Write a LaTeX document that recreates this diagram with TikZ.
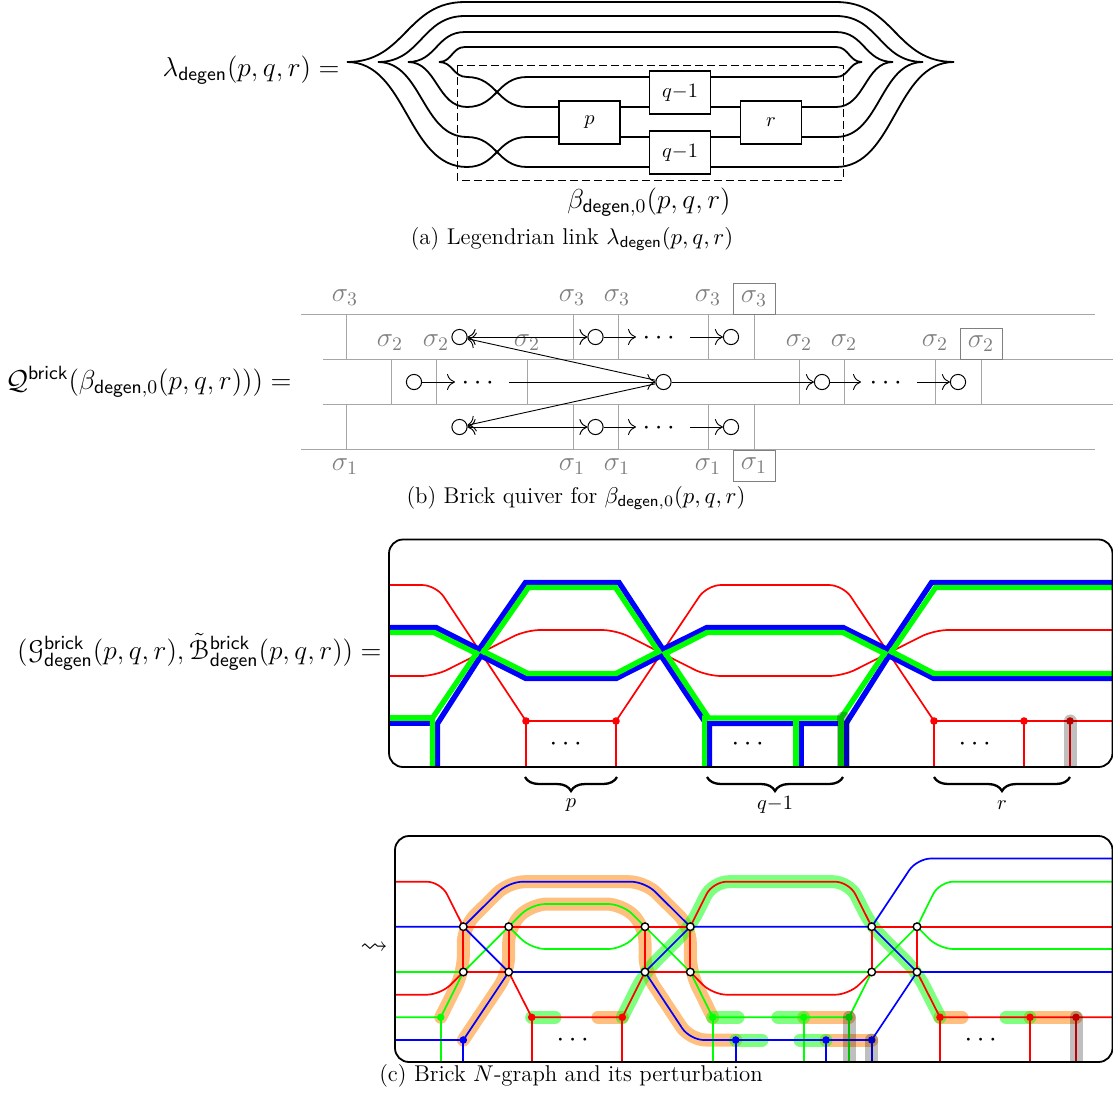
\documentclass[tikz,border=0pt]{standalone}
\usepackage{fix-cm}
\usepackage{amsmath,amssymb}
\usepackage[mathscr]{eucal}
\usetikzlibrary{arrows.meta,decorations.pathreplacing}
\newcommand{\fbig}{\fontsize{13.7}{16}\selectfont}
\newcommand{\fcap}{\fontsize{11.4}{13}\selectfont}
\newcommand{\fsm}{\fontsize{10.2}{12}\selectfont}
\newcommand{\dg}{\mathsf{degen}}
\definecolor{sgray}{gray}{0.5}
\tikzset{
  strand/.style={line width=0.9pt},
  boxn/.style={draw,line width=0.9pt,fill=white,minimum width=30.5pt,minimum height=21.5pt,inner sep=0pt,font=\fsm},
  glab/.style={text=sgray,font=\fbig,inner sep=0pt},
  gbox/.style={draw=sgray,line width=.45pt,minimum width=21pt,minimum height=15.5pt,inner sep=0pt,text=sgray,font=\fbig},
  gl/.style={draw=sgray!70,line width=.5pt},
  qv/.style={circle,draw,minimum size=7.6pt,inner sep=0pt,line width=.5pt},
  qa/.style={line width=.45pt,-{Computer Modern Rightarrow[length=4pt,width=8pt]}},
  qb/.style={line width=.5pt,{Computer Modern Rightarrow[length=4pt,width=8pt]}-{Computer Modern Rightarrow[length=4pt,width=8pt]}},
  thinr/.style={draw=red,line width=.85pt},
  thinb/.style={draw=blue,line width=.85pt},
  thing/.style={draw=green,line width=.85pt},
  thickb/.style={draw=blue,line width=2.7pt},
  thickg/.style={draw=green,line width=2.7pt},
  rr/.style={rounded corners=7pt},
  frame/.style={draw,line width=.9pt,rounded corners=7pt},
  hlg/.style={draw=black,opacity=.25,line width=6.5pt,line cap=round},
  hlo/.style={draw=orange,opacity=.5,line width=6.5pt,line cap=round,rounded corners=8pt},
  hlgr/.style={draw=green,opacity=.5,line width=6.5pt,line cap=round,rounded corners=8pt},
  rdot/.style={circle,fill=red,minimum size=3.8pt,inner sep=0pt},
  bdot/.style={circle,fill=blue,minimum size=3.8pt,inner sep=0pt},
  gdot/.style={circle,fill=green,minimum size=3.8pt,inner sep=0pt},
  wn/.style={circle,draw,fill=white,line width=.7pt,minimum size=3.8pt,inner sep=0pt},
  bracest/.style={decorate,decoration={brace,mirror,amplitude=7pt},line width=1.15pt},
  tx/.style={inner sep=0pt,font=\fbig},
  captxt/.style={inner sep=0pt,font=\fcap},
  smtxt/.style={inner sep=0pt,font=\fsm},
}
\begin{document}
\begin{tikzpicture}[x=.5pt,y=-.5pt]
\useasboundingbox (0,0) rectangle (1113,1093);
%% ---------- (a)
\node[tx,anchor=east] (la) at (340,70) {$\lambda_{\dg}(p,q,r)=$};
\foreach \lx/\rx/\ty in {347/954/2,378/923/16,408/893/32,439/862/47}{
  \draw[strand] (\lx,62) .. controls ({(\lx+465)/2},62) and ({(\lx+465)/2},\ty) .. (465,\ty) -- (836,\ty)
     .. controls ({(\rx+836)/2},\ty) and ({(\rx+836)/2},62) .. (\rx,62);
}
\draw[strand] (439,62) .. controls (453,62) and (453,77) .. (467,77) .. controls (497,77) and (497,107) .. (527,107) -- (836,107)
   .. controls (865,107) and (865,62) .. (893,62);
\draw[strand] (408,62) .. controls (437,62) and (437,107) .. (467,107) .. controls (497,107) and (497,77) .. (527,77) -- (836,77)
   .. controls (849,77) and (849,62) .. (862,62);
\draw[strand] (378,62) .. controls (422,62) and (422,137) .. (467,137) .. controls (497,137) and (497,167) .. (527,167) -- (836,167)
   .. controls (895,167) and (895,62) .. (954,62);
\draw[strand] (347,62) .. controls (407,62) and (407,167) .. (467,167) .. controls (497,167) and (497,137) .. (527,137) -- (836,137)
   .. controls (880,137) and (880,62) .. (923,62);
\node[boxn] (bp) at (589.5,122.5) {$p$};
\node[boxn] (bq1) at (680,92.5) {$q{-}1$};
\node[boxn] (bq2) at (680,152.5) {$q{-}1$};
\node[boxn] (br) at (771,122.5) {$r$};
\draw[dash pattern=on 4pt off 2pt,line width=.45pt] (457,65) rectangle (843,180);
\node[tx] (lb) at (649,202) {$\beta_{\dg,0}(p,q,r)$};
\node[captxt] (ca) at (572,239) {(a) Legendrian link $\lambda_{\dg}(p,q,r)$};
%% ---------- (b)
\node[tx,anchor=east] (lq) at (292,382) {$\mathcal{Q}^{\mathsf{brick}}(\beta_{\dg,0}(p,q,r)))=$};
\draw[gl] (301,314) -- (1095,314);
\draw[gl] (301,449.5) -- (1095,449.5);
\draw[gl] (323,359) -- (1113,359);
\draw[gl] (323,404) -- (1113,404);
\foreach \x in {346,573,618,708.5,754}{
  \draw[gl] (\x,314) -- (\x,359);
  \draw[gl] (\x,404) -- (\x,449.5);
}
\foreach \x in {391.5,436.5,527,799.5,844.5,935.5,981}{
  \draw[gl] (\x,359) -- (\x,404);
}
\foreach \x/\n in {345/a,572/b,617/c,708/d}{
  \node[glab] (s3\n) at (\x,298) {$\sigma_3$};
  \node[glab] (s1\n) at (\x,467) {$\sigma_1$};
}
\node[gbox] (s3e) at (754,298.5) {$\sigma_3$};
\node[gbox] (s1e) at (754,465.5) {$\sigma_1$};
\foreach \x/\n in {390/a,436/b,527/c,799/d,844/e,935/f}{
  \node[glab] (s2\n) at (\x,342.5) {$\sigma_2$};
}
\node[gbox] (s2g) at (981,344) {$\sigma_2$};
\node[qv] (t1) at (459.5,337) {};
\node[qv] (t2) at (595.5,337) {};
\node[qv] (t3) at (731,337) {};
\node[qv] (m1) at (414,382) {};
\node[qv] (m2) at (663.5,382) {};
\node[qv] (m3) at (822,382) {};
\node[qv] (m4) at (958,382) {};
\node[qv] (u1) at (459.5,427) {};
\node[qv] (u2) at (595.5,427) {};
\node[qv] (u3) at (731,427) {};
\draw[qb] (t1) -- (t2);
\draw[qb] (u1) -- (u2);
\draw[qa] (m2) -- (t1);
\draw[qa] (m2) -- (u1);
\coordinate (te) at (636,337); \coordinate (ts) at (690,337);
\coordinate (ue) at (636,427); \coordinate (us) at (690,427);
\coordinate (me) at (455,382); \coordinate (ms) at (509,382);
\coordinate (ne) at (861,382); \coordinate (ns) at (917,382);
\draw[qa] (t2) -- (te); \draw[qa] (ts) -- (t3);
\draw[qa] (u2) -- (ue); \draw[qa] (us) -- (u3);
\draw[qa] (m1) -- (me); \draw[qa] (ms) -- (m2);
\draw[qa] (m2) -- (m3);
\draw[qa] (m3) -- (ne); \draw[qa] (ns) -- (m4);
\node[tx] (d1) at (661,338) {$\cdots$};
\node[tx] (d2) at (661,428) {$\cdots$};
\node[tx] (d3) at (480,383) {$\cdots$};
\node[tx] (d4) at (888,383) {$\cdots$};
\node[captxt] (cb) at (576,498) {(b) Brick quiver for $\beta_{\dg,0}(p,q,r)$};
%% ---------- (c)
\node[tx,anchor=east] (lg) at (382,652) {$(\mathscr{G}^{\mathsf{brick}}_{\dg}(p,q,r),\tilde{\mathscr{B}}^{\mathsf{brick}}_{\dg}(p,q,r))=$};
\begin{scope}
\clip (389,539.5) rectangle (1113,767);
% red thin
\draw[thinr,rr] (389,585) -- (436,585) -- (526,721);
\draw[thinr,rr] (616,721) -- (707,585) -- (843,585) -- (934,721);
\draw[thinr,rr] (389,676) -- (435,676) -- (526,630) -- (616,630) -- (707,676) -- (843,676) -- (934,630) -- (1113,630);
\draw[thinr] (526,721) -- (616,721);
\draw[thinr] (934,721) -- (1113,721);
\foreach \x in {526,616,934,1024,1070}{ \draw[thinr] (\x,721) -- (\x,767); }
% thick blue
\draw[thickb] (389,627.5) -- (436,627.5) -- (481.1,650.3);
\draw[thickb] (478.9,654.7) -- (526,678.5) -- (616,678.5) -- (663.1,654.7);
\draw[thickb] (660.9,650.3) -- (707,627.5) -- (843,627.5) -- (889.1,650.3);
\draw[thickb] (886.9,654.7) -- (934,678.5) -- (1113,678.5);
\draw[thickb] (437.5,767) -- (437.5,723.5) -- (482.1,653.9);
\draw[thickb] (477.9,651.1) -- (525.5,582.5) -- (619,582.5) -- (664.1,651.1);
\draw[thickb] (659.9,653.9) -- (706,723.5);
\draw[thickb] (709.5,767) -- (709.5,723.5) -- (846,723.5) -- (890.1,653.9);
\draw[thickb] (885.9,651.1) -- (931.5,582.5) -- (1113,582.5);
\draw[thickb] (389,723.5) -- (430,723.5);
\draw[thickb] (801,723.5) -- (801,767);
\draw[thickb] (846,723.5) -- (846,767);
% thick green
\draw[thickg] (389,632.5) -- (434,632.5) -- (478.9,654.7);
\draw[thickg] (481.1,650.3) -- (528,673.5) -- (616,673.5) -- (660.9,650.3);
\draw[thickg] (663.1,654.7) -- (707,632.5) -- (843,632.5) -- (886.9,654.7);
\draw[thickg] (889.1,650.3) -- (934,673.5) -- (1113,673.5);
\draw[thickg] (432.5,767) -- (432.5,718) -- (477.9,651.1);
\draw[thickg] (482.1,653.9) -- (528.4,587.5) -- (615.5,587.5) -- (659.9,653.9);
\draw[thickg] (664.1,651.1) -- (708.6,718);
\draw[thickg] (702,718) -- (841,718) -- (885.9,651.1);
\draw[thickg] (890.1,653.9) -- (935.5,587.5) -- (1113,587.5);
\draw[thickg] (389,718) -- (434,718);
\draw[thickg] (704.5,718) -- (704.5,767);
\draw[thickg] (796,718) -- (796,767);
\draw[thickg] (841,718) -- (841,767);
\end{scope}
\foreach \x/\n in {526/a,616/b,934/c,1024/d,1070/e}{ \node[rdot] (cd\n) at (\x,721) {}; }
\begin{scope}
\clip (389,539.5) rectangle (1113,767);
\draw[hlg] (843,718) -- (843,775);
\draw[hlg] (1070,721) -- (1070,775);
\end{scope}
\draw[frame] (389,539.5) rectangle (1112.5,767);
\node[tx] (c1) at (568,744) {$\cdots$};
\node[tx] (c2) at (750,744) {$\cdots$};
\node[tx] (c3) at (977,744) {$\cdots$};
\coordinate (bpa) at (525,777); \coordinate (bpb) at (617,777);
\coordinate (bqa) at (707,777); \coordinate (bqb) at (843,777);
\coordinate (bra) at (934,777); \coordinate (brb) at (1070,777);
\draw[bracest] (bpa) -- (bpb);
\draw[bracest] (bqa) -- (bqb);
\draw[bracest] (bra) -- (brb);
\node[smtxt] (lp) at (571,805) {$p$};
\node[smtxt] (lq1) at (775,805) {$q{-}1$};
\node[smtxt] (lr) at (1002,805) {$r$};
%% ---------- (d)
\node[tx] (sq) at (374,948) {$\rightsquigarrow$};
\foreach \x/\n in {463.3/1,508.7/2,645/3,690.3/4,871.7/5,917/6}{
  \coordinate (A\n) at (\x,926.7);
  \coordinate (B\n) at (\x,972);
}
\begin{scope}
\clip (395,836) rectangle (1113,1062);
% orange highlights
\draw[hlo] (440.7,1017.3) -- (463.3,972) -- (A1) -- (508.7,881.7) -- (645,881.7) -- (A4) -- (B4) -- (712.7,1017.3);
\draw[hlo] (463.3,1040) -- (B2) -- (A2) -- (531.4,904) -- (622.3,904) -- (A3) -- (B3) -- (690,1040) -- (735.7,1040);
\draw[hlo] (598,1017.3) -- (622.3,1017.3);
\draw[hlo] (803.7,1017.3) -- (849,1017.3);
\draw[hlo] (826,1040) -- (871.7,1040);
\draw[hlo] (940,1017.3) -- (962,1017.3);
\draw[hlo] (1030,1017.3) -- (1076,1017.3);
% green highlights
\draw[hlgr] (622.3,1017.3) -- (B3) -- (A4) -- (712.7,881.7) -- (849,881.7) -- (A5) -- (B6) -- (940,1017.3);
\draw[hlgr] (531.7,1017.3) -- (555,1017.3);
\draw[hlgr] (712.7,1017.3) -- (738,1017.3);
\draw[hlgr] (735.7,1040) -- (762,1040);
\draw[hlgr] (778,1017.3) -- (803.7,1017.3);
\draw[hlgr] (800,1040) -- (826,1040);
\draw[hlgr] (1006,1017.3) -- (1030,1017.3);
% green lines
\draw[thing] (395,972) -- (B1) -- (A2);
\draw[thing,rr] (A2) -- (531.4,904) -- (622.3,904) -- (A3);
\draw[thing,rr] (A2) -- (531.4,949) -- (622.3,949) -- (A3);
\draw[thing] (A3) -- (B4) -- (B5) -- (A6);
\draw[thing,rr] (A6) -- (939.3,881.7) -- (1113,881.7);
\draw[thing,rr] (A6) -- (939.3,949) -- (1113,949);
\draw[thing] (395,1017.3) -- (440.7,1017.3) -- (B1);
\draw[thing] (B4) -- (712.7,1017.3) -- (849,1017.3) -- (B5);
\foreach \x in {440.7,712.7,803.7,849}{ \draw[thing] (\x,1017.3) -- (\x,1062); }
% blue lines
\draw[thinb] (395,926.7) -- (A1) -- (B2) -- (B3) -- (A4) -- (A5) -- (B6) -- (1113,972);
\draw[thinb,rr] (A1) -- (508.7,881.7) -- (645,881.7) -- (A4);
\draw[thinb,rr] (A5) -- (917,858.5) -- (1113,858.5);
\draw[thinb] (395,1040) -- (463.3,1040) -- (B2);
\draw[thinb,rr] (B3) -- (690,1040) -- (871.7,1040);
\draw[thinb] (871.7,1040) -- (B6);
\foreach \x in {463.3,735.7,826,871.7}{ \draw[thinb] (\x,1040) -- (\x,1062); }
% red lines
\draw[thinr,rr] (395,881.7) -- (440.7,881.7) -- (A1);
\draw[thinr] (A1) -- (A4);
\draw[thinr] (A5) -- (1113,926.7);
\draw[thinr] (B1) -- (B2) -- (531.7,1017.3) -- (622.3,1017.3) -- (B3) -- (B4);
\draw[thinr] (B5) -- (B6) -- (940,1017.3) -- (1113,1017.3);
\draw[thinr,rr] (A4) -- (712.7,881.7) -- (849,881.7) -- (A5);
\draw[thinr,rr] (395,994.7) -- (440.7,994.7) -- (B1);
\draw[thinr,rr] (B4) -- (712.7,994.7) -- (849,994.7) -- (B5);
\foreach \n in {1,2,3,4,5,6}{ \draw[thinr] (A\n) -- (B\n); }
\foreach \x in {531.7,622.3,940,1030,1076}{ \draw[thinr] (\x,1017.3) -- (\x,1062); }
\end{scope}
\foreach \x/\n in {531.7/a,622.3/b,940/c,1030/d,1076/e}{ \node[rdot] (dr\n) at (\x,1017.3) {}; }
\foreach \x/\n in {440.7/a,712.7/b,803.7/c,849/d}{ \node[gdot] (dg\n) at (\x,1017.3) {}; }
\foreach \x/\n in {463.3/a,735.7/b,826/c,871.7/d}{ \node[bdot] (db\n) at (\x,1040) {}; }
\foreach \n in {1,2,3,4,5,6}{
  \node[wn] (wa\n) at (A\n) {};
  \node[wn] (wb\n) at (B\n) {};
}
\begin{scope}
\clip (395,836) rectangle (1113,1062);
\draw[hlg] (849,1017.3) -- (849,1070);
\draw[hlg] (871.7,1040) -- (871.7,1070);
\draw[hlg] (1076,1017.3) -- (1076,1070);
\end{scope}
\draw[frame] (395,836) rectangle (1112.5,1062);
\node[tx] (d5) at (575,1040) {$\cdots$};
\node[tx] (d6) at (983,1040) {$\cdots$};
\node[captxt] (cc) at (571,1076) {(c) Brick $N$-graph and its perturbation};
\end{tikzpicture}
\end{document}
